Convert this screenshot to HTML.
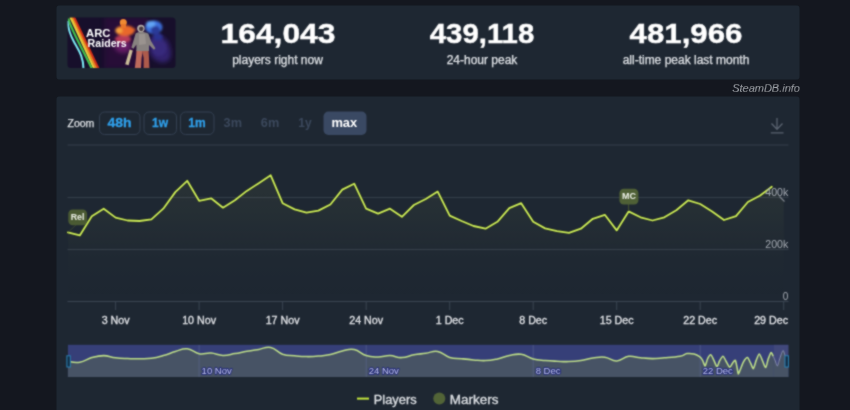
<!DOCTYPE html>
<html lang="en">
<head>
<meta charset="utf-8">
<title>ARC Raiders - Steam Charts - SteamDB</title>
<style>
html,body{margin:0;padding:0;background:#14171f;}
body{width:850px;height:410px;overflow:hidden;background:#14171f;font-family:"Liberation Sans",sans-serif;position:relative;}
#wrap{position:absolute;left:0;top:0;width:850px;height:410px;overflow:hidden;filter:url(#soft);}
.panel{position:absolute;left:56px;width:744px;background:#1e2732;border-radius:4px;}
#stats{top:5px;height:75px;}
#chart{top:96px;height:314px;border-bottom-left-radius:0;border-bottom-right-radius:0;}
.stat{position:absolute;top:0;width:204px;text-align:center;color:#fff;}
.stat b{position:absolute;left:0;right:0;top:12.85px;font-size:28px;line-height:32px;font-weight:700;white-space:nowrap;display:block;transform-origin:50% 50%;-webkit-text-stroke:0.4px #fff;}
.stat span{position:absolute;left:-20px;right:-20px;top:46.7px;font-size:12px;line-height:16px;color:#dfe2e6;-webkit-text-stroke:0.25px #dfe2e6;white-space:nowrap;display:block;}
#brand{position:absolute;right:50px;top:80.9px;font-size:11px;line-height:14px;font-style:italic;color:#999da4;-webkit-text-stroke:0.2px #999da4;}
svg{position:absolute;left:0;top:0;}
svg text{font-family:"Liberation Sans",sans-serif;}
</style>
</head>
<body>
<div id="wrap">
<div class="panel" id="stats">
  <div class="stat" style="left:119.5px"><b style="transform:scaleX(1.135)">164,043</b><span>players right now</span></div>
  <div class="stat" style="left:324px"><b style="transform:scaleX(1.048)">439,118</b><span>24-hour peak</span></div>
  <div class="stat" style="left:528px"><b style="transform:scaleX(1.115)">481,966</b><span>all-time peak last month</span></div>
</div>
<div id="brand">SteamDB.info</div>
<div class="panel" id="chart"></div>
<svg width="850" height="410" viewBox="0 0 850 410">
  <defs>
    <filter id="soft" x="0" y="0" width="100%" height="100%" color-interpolation-filters="sRGB"><feConvolveMatrix order="3" kernelMatrix="1 2 1 2 8 2 1 2 1" divisor="20" edgeMode="duplicate" preserveAlpha="true"/></filter>
    <linearGradient id="fillg" x1="0" y1="0" x2="0" y2="1">
      <stop offset="0" stop-color="#b8c86a" stop-opacity="0.078"/>
      <stop offset="0.65" stop-color="#b8c86a" stop-opacity="0.012"/>
      <stop offset="1" stop-color="#b8c86a" stop-opacity="0"/>
    </linearGradient>
    <clipPath id="imgclip"><rect x="67.5" y="17.5" width="108" height="50.5" rx="3.5"/></clipPath>
    <filter id="b1" x="-30%" y="-30%" width="160%" height="160%"><feGaussianBlur stdDeviation="1"/></filter>
    <filter id="b2" x="-30%" y="-30%" width="160%" height="160%"><feGaussianBlur stdDeviation="2.2"/></filter>
    <filter id="b05" x="-30%" y="-30%" width="160%" height="160%"><feGaussianBlur stdDeviation="0.45"/></filter>
  </defs>

  <!-- game capsule -->
  <g clip-path="url(#imgclip)">
    <rect x="67" y="17" width="110" height="52" fill="#170f2b"/>
    <rect x="104" y="17" width="44" height="52" fill="#30103f" opacity="0.6" filter="url(#b2)"/>
    <!-- blue figure -->
    <g filter="url(#b2)">
      <path d="M149 38C156 33 166 36 169 44C172 52 172 60 166 62C158 64 150 58 149 50Z" fill="#30246e"/>
    </g>
    <g filter="url(#b1)">
      <path d="M152 40C158 37 164 40 166 46C167 52 164 56 158 56C153 55 151 48 152 40Z" fill="#3a2c80" opacity="0.8"/>
      <ellipse cx="153.8" cy="27.2" rx="8.6" ry="6.8" fill="#3c70dc"/>
      <ellipse cx="150.8" cy="24.3" rx="4.6" ry="3.2" fill="#62a4f6"/>
      <ellipse cx="155.5" cy="30.5" rx="4.6" ry="4.6" fill="#2a3a98"/>
      <ellipse cx="158" cy="37" rx="5" ry="3.5" fill="#2b3390"/>
    </g>
    <!-- orange figure -->
    <g filter="url(#b2)">
      <ellipse cx="123" cy="46" rx="8.5" ry="7" fill="#6a2068" opacity="0.95"/>
    </g>
    <g filter="url(#b1)">
      <ellipse cx="123" cy="39" rx="8" ry="3.8" fill="#b83a58"/>
      <ellipse cx="125" cy="30.6" rx="9.6" ry="5.4" fill="#e8682a"/>
      <ellipse cx="119" cy="30.5" rx="3.5" ry="2.8" fill="#f6a23c"/>
      <path d="M128 29.2L135.5 28.8L135.5 30.6L128 31.5Z" fill="#e8682a"/>
    </g>
    <g filter="url(#b05)">
      <circle cx="123.3" cy="22.6" r="3.5" fill="#f08a30"/>
      <rect x="121" y="24" width="5" height="4" fill="#e8742c"/>
    </g>
    <!-- rainbow -->
    <g fill="none" stroke-width="2" filter="url(#b05)">
      <path d="M74.6 16L99.6 69" stroke="#1a0a1e" stroke-width="1.6" opacity="0.7"/>
      <path d="M73.4 16L98.6 69" stroke="#cf2f1a" stroke-width="2.3"/>
      <path d="M71.5 16L96.5 69" stroke="#ee8420"/>
      <path d="M69.8 16L94.4 69" stroke="#ead23e"/>
      <path d="M67.9 17C70 28 80 44 92 69" stroke="#42c24e" stroke-width="2.1"/>
      <path d="M67.4 21C68.4 30 71.3 37 73.8 41.5C77.8 49 83.5 56 83.5 69" stroke="#7ae8f2" stroke-width="2"/>
    </g>
    <!-- astronaut -->
    <g filter="url(#b05)">
      <path d="M129.6 49.5L132.8 50.6L128.6 65.2L125.2 64.2Z" fill="#c9bc98"/>
      <path d="M136.5 50L143 50L141.6 58L141 68L134.8 68L136 58Z" fill="#bd6a5c"/>
      <path d="M142 50L148.5 50L149 58L149.4 68L143.6 68L143.6 58Z" fill="#ad5a4c"/>
      <path d="M135.6 33.6C138.5 31.6 145.5 31.6 148.4 33.8L151 41L155.4 48.2L154 49.8L149 45L149 51L136.4 51L136.4 44.5L133.4 48.8L131.4 47.6Z" fill="#888280"/>
      <path d="M139 34L145 34L146 44L139 45Z" fill="#9a938f"/>
      <circle cx="140.9" cy="28.4" r="3.7" fill="#b5aea8"/>
      <ellipse cx="141.2" cy="28.8" rx="2.2" ry="2.4" fill="#4c3d42"/>
    </g>
    <!-- logo text -->
    <g fill="#ffffff" font-weight="700" font-size="11.3" filter="url(#b05)">
      <text x="86" y="37.2" textLength="24.4" lengthAdjust="spacingAndGlyphs">ARC</text>
      <text x="87.6" y="46.5" textLength="39" lengthAdjust="spacingAndGlyphs">Raiders</text>
    </g>

  </g>

  <!-- zoom buttons -->
  <g font-size="10.5" fill="#dfe2e6" stroke="#dfe2e6" stroke-width="0.25"><text x="67.5" y="126.6">Zoom</text></g>
  <g fill="none" stroke="#344052" stroke-width="1">
    <rect x="99.5" y="112" width="40.5" height="22.5" rx="5"/>
    <rect x="144" y="112" width="32.5" height="22.5" rx="5"/>
    <rect x="180.5" y="112" width="33.5" height="22.5" rx="5"/>
  </g>
  <rect x="323.5" y="111.5" width="43" height="23.5" rx="5" fill="#3a4963"/>
  <g font-size="12" font-weight="700" text-anchor="middle" stroke-width="0.3">
    <text x="119.5" y="127" fill="#2f9ee8" stroke="#2f9ee8" textLength="24" lengthAdjust="spacingAndGlyphs">48h</text>
    <text x="160" y="127" fill="#2f9ee8" stroke="#2f9ee8">1w</text>
    <text x="197" y="127" fill="#2f9ee8" stroke="#2f9ee8">1m</text>
    <text x="232.8" y="127" fill="#3b485c" textLength="18.4" lengthAdjust="spacingAndGlyphs">3m</text>
    <text x="270" y="127" fill="#3b485c" textLength="18.4" lengthAdjust="spacingAndGlyphs">6m</text>
    <text x="305" y="127" fill="#3b485c">1y</text>
    <text x="344.3" y="127" fill="#ffffff" textLength="25.8" lengthAdjust="spacingAndGlyphs">max</text>
  </g>
  <!-- export icon -->
  <g stroke="#59626f" stroke-width="1.3" fill="none">
    <path d="M777 118V129M771.5 123.5L777 129.2L782.5 123.5M770.8 132.8H783.5"/>
  </g>

  <!-- grid -->
  <g stroke="#343e4a" stroke-width="1">
    <path d="M67.5 145H788.5"/>
    <path d="M67.5 197.5H788.5"/>
    <path d="M67.5 249.5H788.5"/>
  </g>
  <path d="M67.5 301.5H788.5" stroke="#3b4552" stroke-width="1"/>
  <path d="M115.6 301.5V310" stroke="#3b4552" stroke-width="1"/><path d="M199.1 301.5V310" stroke="#3b4552" stroke-width="1"/><path d="M282.6 301.5V310" stroke="#3b4552" stroke-width="1"/><path d="M366.2 301.5V310" stroke="#3b4552" stroke-width="1"/><path d="M449.7 301.5V310" stroke="#3b4552" stroke-width="1"/><path d="M533.2 301.5V310" stroke="#3b4552" stroke-width="1"/><path d="M616.7 301.5V310" stroke="#3b4552" stroke-width="1"/><path d="M700.2 301.5V310" stroke="#3b4552" stroke-width="1"/><path d="M783.7 301.5V310" stroke="#3b4552" stroke-width="1"/>

  <!-- series -->
  <path d="M67.9 232.4 L79.8 235.4 L91.8 216.3 L103.7 208.7 L115.6 217.6 L127.6 220.5 L139.5 221.0 L151.4 219.3 L163.3 208.7 L175.3 192.1 L187.2 180.8 L199.1 200.8 L211.1 198.3 L223.0 207.7 L234.9 200.3 L246.8 190.9 L258.8 183.2 L270.7 175.3 L282.6 203.2 L294.6 209.4 L306.5 212.6 L318.4 210.6 L330.4 204.5 L342.3 189.6 L354.2 183.7 L366.1 208.7 L378.1 213.6 L390.0 208.7 L401.9 216.8 L413.9 205.0 L425.8 199.0 L437.7 191.6 L449.7 215.6 L461.6 221.0 L473.5 226.0 L485.5 228.7 L497.4 221.8 L509.3 208.2 L521.2 203.2 L533.2 221.8 L545.1 228.4 L557.0 231.2 L569.0 232.9 L580.9 228.7 L592.8 218.8 L604.8 214.8 L616.7 230.4 L628.6 211.4 L640.5 217.3 L652.5 220.5 L664.4 217.3 L676.3 210.2 L688.3 200.3 L700.2 204.0 L712.1 211.4 L724.0 220.0 L736.0 216.1 L747.9 202.0 L759.8 195.8 L771.8 186.7 L783.8 200.6 L783.8 301 L67.9 301 Z" fill="url(#fillg)"/>
  <path d="M779.5 196.5L784.5 201.5" stroke="#7d838b" stroke-width="1.3" fill="none"/>
  <path d="M67.9 232.4 L79.8 235.4 L91.8 216.3 L103.7 208.7 L115.6 217.6 L127.6 220.5 L139.5 221.0 L151.4 219.3 L163.3 208.7 L175.3 192.1 L187.2 180.8 L199.1 200.8 L211.1 198.3 L223.0 207.7 L234.9 200.3 L246.8 190.9 L258.8 183.2 L270.7 175.3 L282.6 203.2 L294.6 209.4 L306.5 212.6 L318.4 210.6 L330.4 204.5 L342.3 189.6 L354.2 183.7 L366.1 208.7 L378.1 213.6 L390.0 208.7 L401.9 216.8 L413.9 205.0 L425.8 199.0 L437.7 191.6 L449.7 215.6 L461.6 221.0 L473.5 226.0 L485.5 228.7 L497.4 221.8 L509.3 208.2 L521.2 203.2 L533.2 221.8 L545.1 228.4 L557.0 231.2 L569.0 232.9 L580.9 228.7 L592.8 218.8 L604.8 214.8 L616.7 230.4 L628.6 211.4 L640.5 217.3 L652.5 220.5 L664.4 217.3 L676.3 210.2 L688.3 200.3 L700.2 204.0 L712.1 211.4 L724.0 220.0 L736.0 216.1 L747.9 202.0 L759.8 195.8 L771.8 186.7" fill="none" stroke="#273018" stroke-width="3.3" stroke-linejoin="round" stroke-linecap="round" opacity="0.5"/>
  <path d="M67.9 232.4 L79.8 235.4 L91.8 216.3 L103.7 208.7 L115.6 217.6 L127.6 220.5 L139.5 221.0 L151.4 219.3 L163.3 208.7 L175.3 192.1 L187.2 180.8 L199.1 200.8 L211.1 198.3 L223.0 207.7 L234.9 200.3 L246.8 190.9 L258.8 183.2 L270.7 175.3 L282.6 203.2 L294.6 209.4 L306.5 212.6 L318.4 210.6 L330.4 204.5 L342.3 189.6 L354.2 183.7 L366.1 208.7 L378.1 213.6 L390.0 208.7 L401.9 216.8 L413.9 205.0 L425.8 199.0 L437.7 191.6 L449.7 215.6 L461.6 221.0 L473.5 226.0 L485.5 228.7 L497.4 221.8 L509.3 208.2 L521.2 203.2 L533.2 221.8 L545.1 228.4 L557.0 231.2 L569.0 232.9 L580.9 228.7 L592.8 218.8 L604.8 214.8 L616.7 230.4 L628.6 211.4 L640.5 217.3 L652.5 220.5 L664.4 217.3 L676.3 210.2 L688.3 200.3 L700.2 204.0 L712.1 211.4 L724.0 220.0 L736.0 216.1 L747.9 202.0 L759.8 195.8 L771.8 186.7" fill="none" stroke="#cbea58" stroke-width="1.8" stroke-linejoin="round" stroke-linecap="round"/>

  <!-- y labels -->
  <g font-size="10" fill="#a6acb4" text-anchor="end">
    <text x="788.3" y="195.6" textLength="23" lengthAdjust="spacingAndGlyphs">400k</text>
    <text x="788.3" y="248.4" textLength="23" lengthAdjust="spacingAndGlyphs">200k</text>
    <text x="788.3" y="300">0</text>
  </g>
  <!-- x labels -->
  <g font-size="10.7" fill="#e0e2e6" stroke="#e0e2e6" stroke-width="0.3"><text x="115.6" y="324" text-anchor="middle">3 Nov</text><text x="199.1" y="324" text-anchor="middle">10 Nov</text><text x="282.6" y="324" text-anchor="middle">17 Nov</text><text x="366.2" y="324" text-anchor="middle">24 Nov</text><text x="449.7" y="324" text-anchor="middle">1 Dec</text><text x="533.2" y="324" text-anchor="middle">8 Dec</text><text x="616.7" y="324" text-anchor="middle">15 Dec</text><text x="700.2" y="324" text-anchor="middle">22 Dec</text><text x="788" y="324" text-anchor="end">29 Dec</text></g>

  <!-- markers -->
  <g>
    <path d="M76.5 224.5L68.4 232" stroke="#3c4831" stroke-width="0.9" fill="none"/>
    <rect x="68.3" y="209.4" width="18.8" height="15.8" rx="4.4" fill="#4a5a33"/>
    <text x="77.5" y="220" font-size="8.8" font-weight="700" fill="#eef1e8" text-anchor="middle">Rel</text>
    <path d="M628.6 204V211" stroke="#45522f" stroke-width="1"/>
    <rect x="619.4" y="188.8" width="19" height="15.8" rx="4.4" fill="#4f6036"/>
    <text x="628.9" y="199.3" font-size="8.8" font-weight="700" fill="#eef1e8" text-anchor="middle" textLength="14" lengthAdjust="spacingAndGlyphs">MC</text>
  </g>

  <!-- navigator -->
  <g>
    <rect x="67.9" y="344.8" width="720.5" height="32.2" fill="#363f78"/>
    <path d="M67.9 361.5 C70.5 361.7 74.6 363.1 79.8 362.2 C85.1 361.4 86.5 359.0 91.8 357.5 C97.0 356.1 98.4 355.6 103.7 355.6 C108.9 355.7 110.4 357.2 115.6 357.8 C120.9 358.5 122.3 358.4 127.6 358.6 C132.8 358.7 134.2 358.8 139.5 358.7 C144.7 358.6 146.2 358.9 151.4 358.3 C156.7 357.6 158.1 357.1 163.3 355.6 C168.6 354.2 170.0 353.1 175.3 351.5 C180.5 350.0 182.0 348.3 187.2 348.8 C192.4 349.2 193.9 352.7 199.1 353.7 C204.4 354.6 205.8 352.7 211.1 353.1 C216.3 353.5 217.7 355.3 223.0 355.4 C228.2 355.5 229.7 354.5 234.9 353.6 C240.2 352.7 241.6 352.2 246.8 351.3 C252.1 350.3 253.5 350.2 258.8 349.4 C264.0 348.5 265.5 346.3 270.7 347.4 C276.0 348.5 277.4 352.4 282.6 354.3 C287.9 356.1 289.3 355.3 294.6 355.8 C299.8 356.3 301.3 356.5 306.5 356.6 C311.7 356.7 313.2 356.6 318.4 356.1 C323.7 355.7 325.1 355.8 330.4 354.6 C335.6 353.5 337.0 352.1 342.3 350.9 C347.5 349.8 349.0 348.4 354.2 349.5 C359.5 350.5 360.9 354.0 366.1 355.6 C371.4 357.3 372.8 356.9 378.1 356.9 C383.3 356.9 384.8 355.5 390.0 355.6 C395.3 355.8 396.7 357.9 401.9 357.6 C407.2 357.4 408.6 355.7 413.9 354.7 C419.1 353.8 420.6 354.0 425.8 353.3 C431.0 352.5 432.5 350.5 437.7 351.4 C443.0 352.3 444.4 355.8 449.7 357.4 C454.9 359.0 456.3 358.1 461.6 358.7 C466.8 359.3 468.3 359.5 473.5 359.9 C478.8 360.3 480.2 360.8 485.5 360.6 C490.7 360.4 492.1 360.0 497.4 358.9 C502.6 357.8 504.1 356.5 509.3 355.5 C514.6 354.5 516.0 353.6 521.2 354.3 C526.5 355.0 527.9 357.5 533.2 358.9 C538.4 360.3 539.9 360.0 545.1 360.5 C550.3 361.0 551.8 361.0 557.0 361.2 C562.3 361.5 563.7 361.8 569.0 361.6 C574.2 361.5 575.6 361.4 580.9 360.6 C586.1 359.8 587.6 358.9 592.8 358.1 C598.1 357.4 599.5 356.5 604.8 357.2 C610.0 357.8 611.4 361.2 616.7 361.0 C621.9 360.8 623.4 357.0 628.6 356.3 C633.9 355.6 635.3 357.3 640.5 357.8 C645.8 358.3 647.2 358.6 652.5 358.6 C657.7 358.6 658.3 358.3 664.4 357.8 C670.5 357.3 675.0 357.1 680.0 356.2 C685.0 355.3 683.9 354.1 687.0 353.6 C690.1 353.1 691.3 353.3 694.1 354.0 C696.9 354.7 697.9 355.5 699.8 356.9 C701.7 358.3 701.4 358.4 702.6 360.4 C703.3 361.6 704.5 366.2 705.1 366.0 C705.7 365.8 706.8 360.5 707.5 359.0 C708.2 357.5 710.0 354.6 710.8 354.8 C711.6 355.0 713.1 358.8 713.9 360.4 C714.7 362.0 716.3 366.7 717.0 366.8 C717.7 366.9 718.7 362.4 719.5 361.0 C720.3 359.6 722.2 356.2 723.0 356.2 C723.8 356.2 725.0 359.6 725.9 361.0 C726.8 362.4 728.8 366.9 729.7 367.2 C730.6 367.5 731.8 364.1 732.5 363.2 C733.2 362.3 734.7 359.8 735.3 360.4 C735.9 361.0 736.8 366.5 737.2 368.2 C737.6 369.9 737.8 373.5 738.2 373.8 C738.6 374.1 739.3 371.9 740.0 370.3 C740.7 368.7 742.5 363.5 743.5 361.8 C744.5 360.1 746.6 357.4 747.5 357.6 C748.4 357.8 749.8 361.8 750.6 363.2 C751.4 364.6 752.7 369.0 753.4 368.6 C754.1 368.2 755.4 362.3 756.2 360.4 C757.0 358.5 758.5 353.9 759.3 354.0 C760.1 354.1 761.8 359.2 762.6 361.0 C763.4 362.8 765.0 367.8 765.7 367.5 C766.4 367.2 767.5 360.9 768.2 359.0 C768.9 357.1 770.4 353.0 771.0 352.6 C771.6 352.2 772.9 355.7 773.2 356.2 L773.2 377 L67.9 377 Z" fill="#475365"/>
    <rect x="774" y="344.8" width="14.4" height="20" fill="#4a507e" opacity="0.55"/>
    <path d="M773.2 356.2 C773.5 356.8 774.8 359.7 775.3 361.0 C775.8 362.3 776.8 366.4 777.4 366.0 C778.0 365.6 779.3 360.0 780.0 358.0 C780.7 356.0 782.3 350.8 783.0 350.5 C783.7 350.2 784.9 355.3 785.2 356.0 L788.4 356 L788.4 377 L773.2 377 Z" fill="#475365"/>
    <path d="M199.1 345V377" stroke="#5a6590" stroke-width="1" opacity="0.6"/><path d="M366.2 345V377" stroke="#5a6590" stroke-width="1" opacity="0.6"/><path d="M533.2 345V377" stroke="#5a6590" stroke-width="1" opacity="0.6"/><path d="M700.2 345V377" stroke="#5a6590" stroke-width="1" opacity="0.6"/>
    <path d="M67.9 361.5 C70.5 361.7 74.6 363.1 79.8 362.2 C85.1 361.4 86.5 359.0 91.8 357.5 C97.0 356.1 98.4 355.6 103.7 355.6 C108.9 355.7 110.4 357.2 115.6 357.8 C120.9 358.5 122.3 358.4 127.6 358.6 C132.8 358.7 134.2 358.8 139.5 358.7 C144.7 358.6 146.2 358.9 151.4 358.3 C156.7 357.6 158.1 357.1 163.3 355.6 C168.6 354.2 170.0 353.1 175.3 351.5 C180.5 350.0 182.0 348.3 187.2 348.8 C192.4 349.2 193.9 352.7 199.1 353.7 C204.4 354.6 205.8 352.7 211.1 353.1 C216.3 353.5 217.7 355.3 223.0 355.4 C228.2 355.5 229.7 354.5 234.9 353.6 C240.2 352.7 241.6 352.2 246.8 351.3 C252.1 350.3 253.5 350.2 258.8 349.4 C264.0 348.5 265.5 346.3 270.7 347.4 C276.0 348.5 277.4 352.4 282.6 354.3 C287.9 356.1 289.3 355.3 294.6 355.8 C299.8 356.3 301.3 356.5 306.5 356.6 C311.7 356.7 313.2 356.6 318.4 356.1 C323.7 355.7 325.1 355.8 330.4 354.6 C335.6 353.5 337.0 352.1 342.3 350.9 C347.5 349.8 349.0 348.4 354.2 349.5 C359.5 350.5 360.9 354.0 366.1 355.6 C371.4 357.3 372.8 356.9 378.1 356.9 C383.3 356.9 384.8 355.5 390.0 355.6 C395.3 355.8 396.7 357.9 401.9 357.6 C407.2 357.4 408.6 355.7 413.9 354.7 C419.1 353.8 420.6 354.0 425.8 353.3 C431.0 352.5 432.5 350.5 437.7 351.4 C443.0 352.3 444.4 355.8 449.7 357.4 C454.9 359.0 456.3 358.1 461.6 358.7 C466.8 359.3 468.3 359.5 473.5 359.9 C478.8 360.3 480.2 360.8 485.5 360.6 C490.7 360.4 492.1 360.0 497.4 358.9 C502.6 357.8 504.1 356.5 509.3 355.5 C514.6 354.5 516.0 353.6 521.2 354.3 C526.5 355.0 527.9 357.5 533.2 358.9 C538.4 360.3 539.9 360.0 545.1 360.5 C550.3 361.0 551.8 361.0 557.0 361.2 C562.3 361.5 563.7 361.8 569.0 361.6 C574.2 361.5 575.6 361.4 580.9 360.6 C586.1 359.8 587.6 358.9 592.8 358.1 C598.1 357.4 599.5 356.5 604.8 357.2 C610.0 357.8 611.4 361.2 616.7 361.0 C621.9 360.8 623.4 357.0 628.6 356.3 C633.9 355.6 635.3 357.3 640.5 357.8 C645.8 358.3 647.2 358.6 652.5 358.6 C657.7 358.6 658.3 358.3 664.4 357.8 C670.5 357.3 675.0 357.1 680.0 356.2 C685.0 355.3 683.9 354.1 687.0 353.6 C690.1 353.1 691.3 353.3 694.1 354.0 C696.9 354.7 697.9 355.5 699.8 356.9 C701.7 358.3 701.4 358.4 702.6 360.4 C703.3 361.6 704.5 366.2 705.1 366.0 C705.7 365.8 706.8 360.5 707.5 359.0 C708.2 357.5 710.0 354.6 710.8 354.8 C711.6 355.0 713.1 358.8 713.9 360.4 C714.7 362.0 716.3 366.7 717.0 366.8 C717.7 366.9 718.7 362.4 719.5 361.0 C720.3 359.6 722.2 356.2 723.0 356.2 C723.8 356.2 725.0 359.6 725.9 361.0 C726.8 362.4 728.8 366.9 729.7 367.2 C730.6 367.5 731.8 364.1 732.5 363.2 C733.2 362.3 734.7 359.8 735.3 360.4 C735.9 361.0 736.8 366.5 737.2 368.2 C737.6 369.9 737.8 373.5 738.2 373.8 C738.6 374.1 739.3 371.9 740.0 370.3 C740.7 368.7 742.5 363.5 743.5 361.8 C744.5 360.1 746.6 357.4 747.5 357.6 C748.4 357.8 749.8 361.8 750.6 363.2 C751.4 364.6 752.7 369.0 753.4 368.6 C754.1 368.2 755.4 362.3 756.2 360.4 C757.0 358.5 758.5 353.9 759.3 354.0 C760.1 354.1 761.8 359.2 762.6 361.0 C763.4 362.8 765.0 367.8 765.7 367.5 C766.4 367.2 767.5 360.9 768.2 359.0 C768.9 357.1 770.4 353.0 771.0 352.6 C771.6 352.2 772.9 355.7 773.2 356.2" fill="none" stroke="#bcdc88" stroke-width="1.55" stroke-linejoin="round"/>
    <path d="M773.2 356.2 C773.5 356.8 774.8 359.7 775.3 361.0 C775.8 362.3 776.8 366.4 777.4 366.0 C778.0 365.6 779.3 360.0 780.0 358.0 C780.7 356.0 782.3 350.8 783.0 350.5 C783.7 350.2 784.9 355.3 785.2 356.0" fill="none" stroke="#8d93b6" stroke-width="0.9" stroke-linejoin="round"/>
    <g font-size="9.5" fill="#c6caee" stroke="#222a76" stroke-width="2" stroke-linejoin="round" paint-order="stroke"><text x="201.6" y="374.2">10 Nov</text><text x="368.7" y="374.2">24 Nov</text><text x="535.7" y="374.2">8 Dec</text><text x="702.7" y="374.2">22 Dec</text></g>
    <rect x="66.9" y="355.8" width="3.4" height="11.2" fill="#132d44" stroke="#2a82b6" stroke-width="1"/>
    <rect x="785" y="355.8" width="3.4" height="11.2" fill="#132d44" stroke="#2a82b6" stroke-width="1"/>
  </g>

  <!-- legend -->
  <path d="M357 398.6H369" stroke="#c6e83c" stroke-width="2"/>
  <circle cx="439.3" cy="398.4" r="6" fill="#526437"/>
  <g font-size="12.5" fill="#dde0e4" stroke="#dde0e4" stroke-width="0.3">
    <text x="373.8" y="403.7" textLength="42.8" lengthAdjust="spacingAndGlyphs">Players</text>
    <text x="449.7" y="403.7" textLength="48.7" lengthAdjust="spacingAndGlyphs">Markers</text>
  </g>
</svg>
</div>
</body>
</html>
